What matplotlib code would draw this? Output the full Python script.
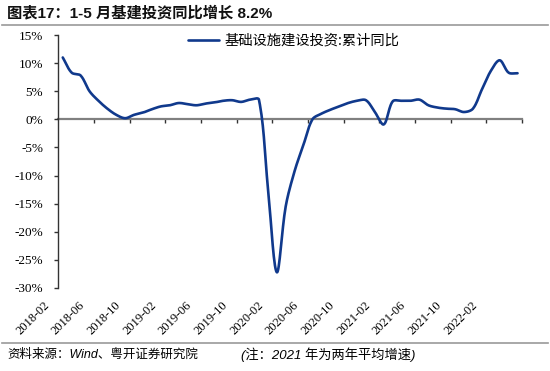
import numpy as np
import pandas as pd
import matplotlib
matplotlib.use("Agg")
import matplotlib.pyplot as plt
from matplotlib.transforms import ScaledTranslation

# Data: infrastructure investment, cumulative YoY (%), monthly 2018-02 .. 2022-05
months = [p.strftime("%Y-%m") for p in pd.period_range("2018-02", "2022-05", freq="M")]
yoy = [11.0, 8.3, 7.8, 5.0, 3.3, 1.9, 0.8, 0.2, 0.8, 1.2, 1.8, 2.3,
       2.5, 2.9, 2.7, 2.5, 2.8, 3.0, 3.3, 3.4, 3.1, 3.5, 3.5,
       -12.0, -27.2, -15.5, -9.2, -4.5, 0.0, 1.0, 1.7, 2.3, 2.9, 3.3, 3.4,
       1.3, -0.9, 3.2, 3.3, 3.3, 3.5, 2.5, 2.1, 1.9, 1.8, 1.3, 1.9,
       5.3, 8.6, 10.5, 8.3, 8.2]
label_every = 4
series_name = "基础设施建设投资:累计同比"
title = "图表17：1-5 月基建投资同比增长 8.2%"
source = "资料来源：Wind、粤开证券研究院"
note = "(注：2021 年为两年平均增速)"

LINE = "#10398C"
W, H = 550, 371


def smooth(x, y, sx=8.92, sy=5.62, n=16):
    # Excel-like smoothed line: cubic Bezier, control arms scaled by segment length
    P = np.column_stack([np.asarray(x, float), np.asarray(y, float)])
    scale = np.array([sx, sy])
    d = np.linalg.norm(np.diff(P * scale, axis=0), axis=1)
    ext = np.vstack([2 * P[0] - P[1], P, 2 * P[-1] - P[-2]])
    dext = np.concatenate([[d[0]], d, [d[-1]]])
    T = ext[2:] - ext[:-2]
    t = np.linspace(0, 1, n, endpoint=False)[:, None]
    pts = []
    for i in range(len(P) - 1):
        a_out = dext[i + 1] / (dext[i] + dext[i + 1]) / 1.5
        a_in = dext[i + 1] / (dext[i + 1] + dext[i + 2]) / 1.5
        c1 = P[i] + T[i] * a_out / 2
        c2 = P[i + 1] - T[i + 1] * a_in / 2
        b = ((1 - t) ** 3) * P[i] + 3 * ((1 - t) ** 2) * t * c1 + 3 * (1 - t) * t ** 2 * c2 + t ** 3 * P[i + 1]
        pts.append(b)
    pts.append(P[-1:])
    pts = np.vstack(pts)
    return pts[:, 0], pts[:, 1]


fig = plt.figure(figsize=(W / 100, H / 100), dpi=100)
ax = fig.add_axes([58.3 / W, 1 - 288 / H, (522 - 58.3) / W, (288 - 35) / H])

idx = np.arange(len(months))
lx, ly = smooth(idx, yoy)
ax.plot(lx, ly, color=LINE, lw=1.9, label=series_name, zorder=3,
        solid_capstyle="round")

ax.set_xlim(-0.5, len(months) - 0.5)
ax.set_ylim(-30, 15)
ax.set_yticks(np.arange(-30, 16, 5))
ax.set_yticklabels([f"{v}%" for v in range(-30, 16, 5)],
                   fontfamily="Liberation Serif", fontsize=9.5)
ax.tick_params(axis="y", direction="out", length=3, width=1, color="#333333", pad=8)

for s in ["top", "right", "bottom"]:
    ax.spines[s].set_visible(False)
ax.spines["left"].set_color("#333333")
ax.spines["left"].set_linewidth(1.0)

# category labels at the bottom
ax.set_xticks(idx[::label_every])
ax.set_xticklabels(months[::label_every], rotation=45, ha="right", va="top",
                   fontfamily="Liberation Serif", fontsize=9)
ax.tick_params(axis="x", length=0, pad=0)
off = ScaledTranslation(-11 / 100, -11 / 100, fig.dpi_scale_trans)
for lab in ax.get_xticklabels():
    lab.set_transform(lab.get_transform() + off)

# axis line through zero with tick marks between categories
zero = ax.secondary_xaxis(30 / 45)
zero.set_alignment("bottom")
zero.set_xticks(np.arange(label_every - 0.5, len(months), label_every))
zero.set_xticklabels([])
zero.tick_params(axis="x", direction="out", length=3, width=1, color="#333333",
                 labelbottom=False, labeltop=False)
zero.spines["bottom"].set_color("#808080")
zero.spines["bottom"].set_linewidth(1.6)

leg = ax.legend(loc="center left", bbox_to_anchor=(188 / W, 1 - 41 / H),
                bbox_transform=fig.transFigure, frameon=False, borderpad=0,
                borderaxespad=0, handlelength=2.2, handletextpad=0.35,
                prop={"family": "Noto Sans CJK SC", "size": 10.3})

fig.text(7 / W, 1 - 13 / H, title, fontsize=11, fontweight="bold", va="center",
         family=["Liberation Sans", "Noto Sans CJK SC"], color="#111111")
fig.add_artist(plt.Line2D([2 / W, 548 / W], [1 - 25 / H] * 2, color="#999999", lw=1.2))
fig.add_artist(plt.Line2D([2 / W, 548 / W], [1 - 343 / H] * 2, color="#999999", lw=1.2))
fig.text(7 / W, 1 - 355 / H, source, fontsize=9, style="italic", va="center",
         family=["Liberation Sans", "Noto Sans CJK SC"])
fig.text(241 / W, 1 - 355 / H, note, fontsize=9.5, style="italic", va="center",
         family=["Liberation Sans", "Noto Sans CJK SC"])

fig.savefig("out.png", dpi=100)
